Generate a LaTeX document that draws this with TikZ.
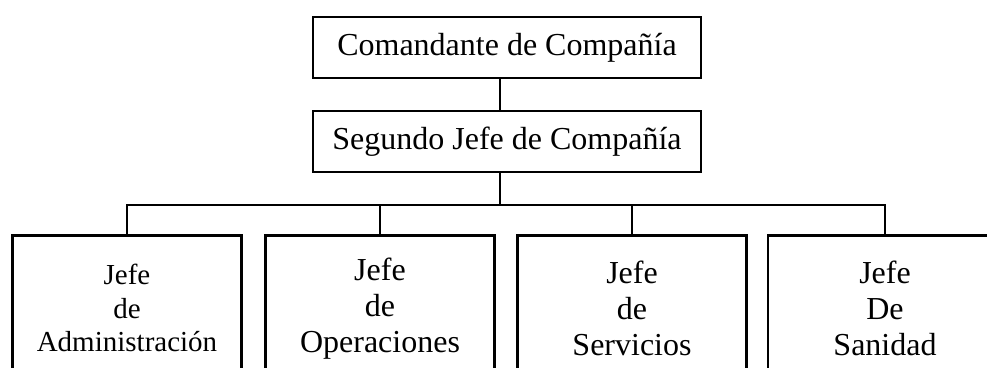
\documentclass[tikz,border=0pt]{standalone}
\usepackage{fontspec}
\setmainfont{Liberation Serif}
\begin{document}
\begin{tikzpicture}[x=1pt,y=-1pt,
  box/.style={draw, line width=2.6pt, inner sep=0pt, align=center},
  topbox/.style={box, minimum width=388pt, minimum height=61pt, font=\fontsize{32}{36}\selectfont},
  unitbox/.style={box, anchor=north, minimum width=229pt, minimum height=146pt, text width=220pt, font=\fontsize{32}{36}\selectfont},
  link/.style={line width=2.6pt}]
\useasboundingbox (0,0) rectangle (987,367);
\clip (0,0) rectangle (987,367);
\node[topbox] (cmd) at (507,47.5) {Comandante de Compañía};
\node[topbox] (seg) at (507,141.5) {Segundo Jefe de Compañía};
\coordinate (trunk) at (500,205);
\node[unitbox, font=\fontsize{29}{33.5}\selectfont] (adm) at (127,234) {Jefe\\de\\Administración};
\node[unitbox] (ope) at (380,234) {Jefe\\de\\Operaciones};
\node[unitbox] (ser) at (632,234) {Jefe\\de\\Servicios};
\node[unitbox, minimum width=234pt] (san) at (885,234) {Jefe\\De\\Sanidad};
\draw[link] (cmd.south -| trunk) -- (seg.north -| trunk);
\draw[link] (seg.south -| trunk) -- (trunk);
\draw[link] (adm.north) |- (trunk) -| (san.north);
\draw[link] (ope.north) -- (ope.north |- trunk);
\draw[link] (ser.north) -- (ser.north |- trunk);
\end{tikzpicture}
\end{document}
